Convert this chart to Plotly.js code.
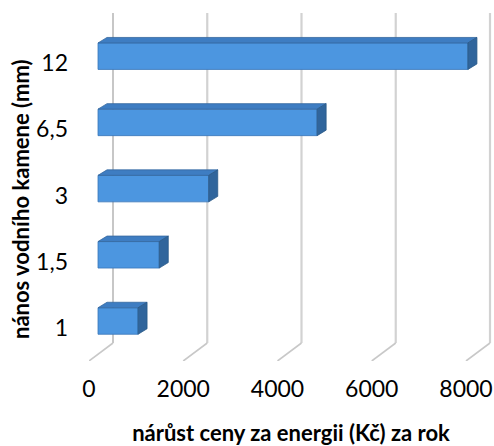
<!DOCTYPE html>
<html>
<head>
<meta charset="utf-8">
<script src="https://cdn.plot.ly/plotly-3.0.1.min.js"></script>
<style>
  html, body { margin: 0; padding: 0; background: #fff; }
  #chart { width: 494px; height: 446px; }
</style>
</head>
<body>
<div id="chart"></div>
<script>
// Scale thickness (mm) and yearly increase of the energy bill (CZK)
var categories = ['1', '1,5', '3', '6,5', '12'];
var costIncrease = [850, 1300, 2350, 4650, 7850];
var tickValues = [0, 2000, 4000, 6000, 8000];
var tickLabels = ['0', '2000', '4000', '6000', '8000'];

// Plot frame in pixels
var W = 494, H = 446;
var M = { l: 89, r: 1, t: 12, b: 85 };
var plotW = W - M.l - M.r, plotH = H - M.t - M.b;
var pxPerUnitX = 94.25 / 2000;      // horizontal scale
var xMax = plotW / pxPerUnitX;
var pxPerCat = 66.2;
var yMin = -0.5, yMax = yMin + plotH / pxPerCat;

// helpers: pixel offsets -> data offsets
function dxp(px) { return px / pxPerUnitX; }
function dyp(px) { return px / pxPerCat; }

// oblique depth of the floor (front edge -> back wall)
var floorDX = dxp(24), floorDY = dyp(18);
// bar placement and depth
var barFX = dxp(9), barFY = dyp(6.9);
var barH = dyp(26.5);
var barDX = dxp(9), barDY = dyp(5.5);

var yPos = categories.map(function (c, i) { return i; });

// front faces
var front = {
  type: 'bar', orientation: 'h',
  x: costIncrease,
  y: yPos.map(function (i) { return i + barFY; }),
  base: barFX,
  width: barH,
  marker: { color: '#4c96e0', line: { color: '#3a76b8', width: 0.8 } },
  hoverinfo: 'skip', showlegend: false
};

// top and right faces built from the same values
var topX = [], topY = [], sideX = [], sideY = [];
costIncrease.forEach(function (v, i) {
  var yb = i + barFY - barH / 2, yt = i + barFY + barH / 2;
  var x0 = barFX, x1 = barFX + v;
  topX.push(x0, x1, x1 + barDX, x0 + barDX, x0, null);
  topY.push(yt, yt, yt + barDY, yt + barDY, yt, null);
  sideX.push(x1, x1 + barDX, x1 + barDX, x1, x1, null);
  sideY.push(yb, yb + barDY, yt + barDY, yt, yb, null);
});
var topFace = {
  type: 'scatter', mode: 'lines', x: topX, y: topY, fill: 'toself',
  fillcolor: '#3e7dc2', line: { color: '#35689f', width: 0.8 },
  hoverinfo: 'skip', showlegend: false
};
var sideFace = {
  type: 'scatter', mode: 'lines', x: sideX, y: sideY, fill: 'toself',
  fillcolor: '#30659c', line: { color: '#2a5988', width: 0.8 },
  hoverinfo: 'skip', showlegend: false
};

// back-wall gridlines with their floor diagonals
var shapes = [];
tickValues.forEach(function (v, i) {
  var bx = v + floorDX, by = yMin + floorDY;
  var isZero = (i === 0);
  shapes.push({
    type: 'line', layer: 'below', xref: 'x', yref: 'y',
    x0: bx, x1: bx, y0: by, y1: yMax - dyp(1),
    line: { color: isZero ? '#a9a9a9' : '#d2d2d2', width: isZero ? 1.3 : 2.2 }
  });
  shapes.push({
    type: 'line', layer: 'below', xref: 'x', yref: 'y',
    x0: bx, x1: v, y0: by, y1: yMin,
    line: { color: '#c8c8c8', width: 1.6 }
  });
});

var layout = {
  width: W, height: H,
  margin: M,
  paper_bgcolor: '#ffffff', plot_bgcolor: '#ffffff',
  font: { family: 'Lato, "Open Sans", sans-serif', color: '#000000', size: 22 },
  xaxis: {
    range: [0, xMax], showgrid: false, zeroline: false, showline: false,
    tickmode: 'array', tickvals: tickValues, ticktext: tickLabels,
    ticks: '', ticklabelstandoff: 12,
    tickfont: { size: 23 },
    fixedrange: true,
    title: {
      text: 'nárůst ceny za energii (Kč) za rok',
      font: { size: 22, weight: 'bold' },
      standoff: 34
    }
  },
  yaxis: {
    range: [yMin, yMax], showgrid: false, zeroline: false, showline: false,
    tickmode: 'array', tickvals: yPos, ticktext: categories,
    ticks: '', ticklabelstandoff: 20,
    tickfont: { size: 23 },
    fixedrange: true
  },
  annotations: [{
    text: '<b>nános vodního kamene (mm)</b>',
    xref: 'paper', yref: 'paper',
    x: (20 - M.l) / plotW, y: (M.t + plotH - 199) / plotH,
    xanchor: 'center', yanchor: 'middle',
    textangle: -90, showarrow: false,
    font: { size: 22 }
  }],
  shapes: shapes,
  bargap: 0,
  showlegend: false
};

Plotly.newPlot('chart', [front, topFace, sideFace], layout, { displayModeBar: false, staticPlot: true });
</script>
</body>
</html>
